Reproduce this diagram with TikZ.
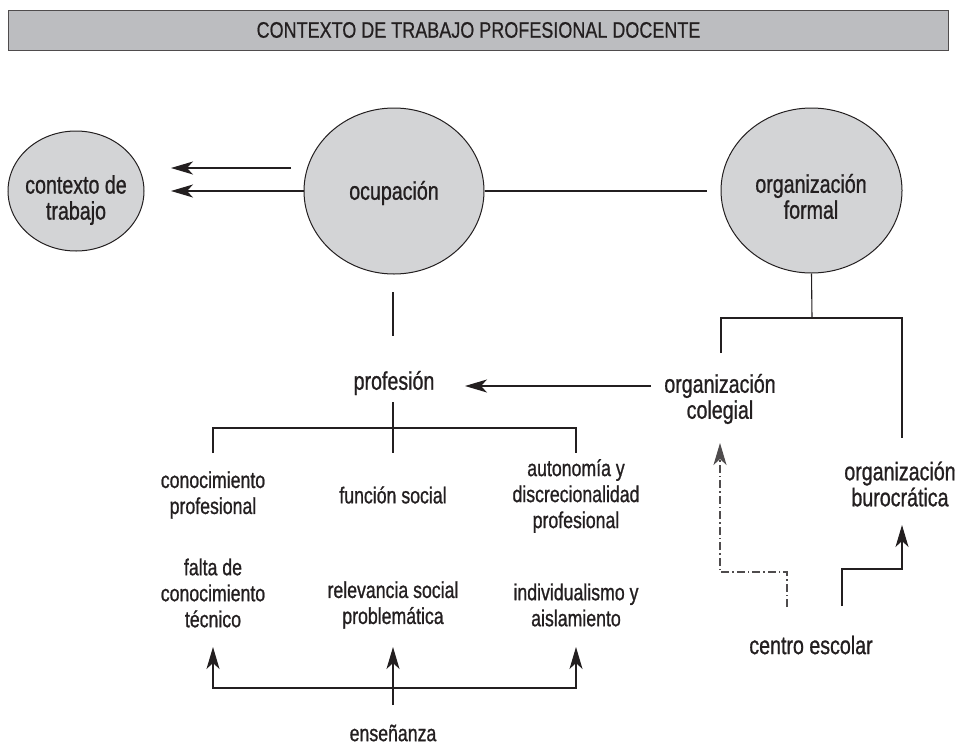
\documentclass[tikz,border=0pt]{standalone}
\usepackage{fontspec}
\setmainfont[FakeStretch=0.77,FakeBold=0.9]{Liberation Sans}
\newfontfamily\titlefont[FakeStretch=0.8,FakeBold=0.6]{Liberation Sans}
\usetikzlibrary{arrows.meta,shapes.geometric}
\definecolor{ink}{HTML}{231F20}
\definecolor{ellgray}{HTML}{D3D4D6}
\definecolor{titlegray}{HTML}{BCBDC0}
\tikzset{
  ell/.style={ellipse, draw=ink, line width=1pt, fill=ellgray, inner sep=0pt},
  lbl/.style={align=center, font=\fontsize{25.5}{26}\selectfont, text=ink, inner sep=0pt},
  sml/.style={align=center, font=\fontsize{23}{26}\selectfont, text=ink, inner sep=0pt},
  ln/.style={line width=1.1pt, draw=ink},
  arr/.style={ln, -{Stealth[length=22pt,width=13pt,inset=6pt]}},
  dda/.style={arr, draw=ink!80, dash pattern=on 8pt off 3pt on 1.5pt off 3pt}
}
\begin{document}
\begin{tikzpicture}[x=1pt,y=-1pt]
\useasboundingbox (0,0) rectangle (957,747);
% title
\node[draw=ink!80, line width=1pt, fill=titlegray, minimum width=940pt, minimum height=40pt, inner sep=0pt,
      font=\titlefont\fontsize{22.5}{24}\selectfont, text=ink] (title) at (478.5,30) {CONTEXTO DE TRABAJO PROFESIONAL DOCENTE};
% ellipses
\node[ell, minimum width=136pt, minimum height=120pt] (ctx) at (76,191) {};
\node[ell, minimum width=180pt, minimum height=166pt] (ocu) at (394,191) {};
\node[ell, minimum width=181pt, minimum height=165pt] (form) at (811.5,190.5) {};
\node[lbl] (ctxt) at (76,200) {contexto de\\trabajo};
\node[lbl] (ocut) at (394,193) {ocupación};
\node[lbl] (formt) at (811,196.5) {organización\\formal};
% text nodes
\node[lbl] (prof) at (394,383) {profesión};
\node[lbl] (coleg) at (720,399) {organización\\colegial};
\node[lbl] (buro) at (900,484) {organización\\burocrática};
\node[lbl] (centro) at (811,645) {centro escolar};
\node[sml] (conoc) at (213,495) {conocimiento\\profesional};
\node[sml] (func) at (393,495) {función social};
\node[sml] (auto) at (576,496) {autonomía y\\discrecionalidad\\profesional};
\node[sml] (falta) at (213,593) {falta de\\conocimiento\\técnico};
\node[sml] (relev) at (393,605) {relevancia social\\problemática};
\node[sml] (indiv) at (576,605) {individualismo y\\aislamiento};
\node[sml] (ense) at (393,733) {enseñanza};
% coordinates
\coordinate (a1s) at (291,168);
\coordinate (a1e) at (171,168);
\coordinate (a2e) at (171,191);
\coordinate (l1e) at (707,191);
\coordinate (s1a) at (393,292);
\coordinate (s1b) at (393,336);
\coordinate (pas) at (651,386);
\coordinate (pae) at (465,386);
\coordinate (s2a) at (393,402);
\coordinate (s2b) at (393,453);
\coordinate (hl) at (213,428);
\coordinate (hr) at (576,428);
\coordinate (hlb) at (213,453);
\coordinate (hrb) at (576,453);
\coordinate (fj) at (812,318);
\coordinate (fl) at (721,318);
\coordinate (fr) at (902,318);
\coordinate (flb) at (721,353);
\coordinate (frb) at (902,438);
\coordinate (dds) at (787,607);
\coordinate (ddm) at (787,572);
\coordinate (ddt) at (720,443);
\coordinate (bus) at (842,606);
\coordinate (bum) at (842,569);
\coordinate (but) at (902,525);
\coordinate (es) at (393,705);
\coordinate (ej) at (393,688);
\coordinate (et) at (393,647);
\coordinate (elt) at (213,647);
\coordinate (ert) at (576,647);
% connectors
\draw[arr] (a1s) -- (a1e);
\draw[arr] (ocu.west) -- (a2e);
\draw[ln] (ocu.east) -- (l1e);
\draw[ln] (s1a) -- (s1b);
\draw[arr] (pas) -- (pae);
\draw[ln] (s2a) -- (s2b);
\draw[ln] (hlb) -- (hl) -- (hr) -- (hrb);
\draw[ln] (form.south) -- (fj);
\draw[ln] (flb) -- (fl) -- (fr) -- (frb);
\draw[dda] (dds) -- (ddm) -| (ddt);
\draw[arr] (bus) -- (bum) -| (but);
\draw[arr] (es) -- (et);
\draw[arr] (ej) -| (elt);
\draw[arr] (ej) -| (ert);
\end{tikzpicture}
\end{document}
